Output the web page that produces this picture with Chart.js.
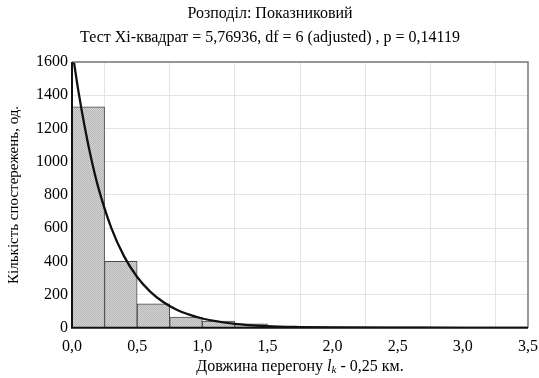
<!DOCTYPE html>
<html>
<head>
<meta charset="utf-8">
<script src="https://cdn.jsdelivr.net/npm/chart.js@4"></script>
<style>
  html, body { margin: 0; background: #fff; }
  #wrap { width: 539px; height: 378px; }
</style>
</head>
<body>
<div id="wrap"><canvas id="c"></canvas></div>
<script>
// ── data ──────────────────────────────────────────────────────
const binWidth  = 0.25;
const binStart  = [0, 0.25, 0.5, 0.75, 1.0, 1.25, 1.5, 1.75, 2.0, 2.25, 2.5, 2.75, 3.0, 3.25];
const binCounts = [1330, 400, 145, 65, 40, 24, 6, 5, 1, 0, 0, 1, 0, 0];

// fitted exponential curve
const curveX = [0, 0.05, 0.1, 0.15, 0.2, 0.3, 0.4, 0.5, 0.6, 0.7, 0.8, 0.9, 1.0, 1.25, 1.5, 1.75, 2.0, 2.5, 3.0, 3.5];
const curveY = [1680, 1420, 1200, 1010, 850, 605, 430, 306, 218, 155, 110, 79, 56, 24, 10, 4.5, 2, 0.4, 0.1, 0];

const xTickVals = [0, 0.5, 1.0, 1.5, 2.0, 2.5, 3.0, 3.5];
const yTickVals = [0, 200, 400, 600, 800, 1000, 1200, 1400, 1600];

const titleLines = ['Розподіл: Показниковий', 'Тест Хі-квадрат = 5,76936, df = 6 (adjusted) , p = 0,14119'];
const yTitle = 'Кількість спостережень, од.';

// ── bar texture (dotted gray) ─────────────────────────────────
function dotPattern() {
  const pc = document.createElement('canvas');
  pc.width = 2; pc.height = 2;
  const g = pc.getContext('2d');
  g.fillStyle = '#d4d4d4'; g.fillRect(0, 0, 2, 2);
  g.fillStyle = '#b6b6b6'; g.fillRect(0, 0, 1, 1); g.fillRect(1, 1, 1, 1);
  return g.createPattern(pc, 'repeat');
}

const SERIF = "'Liberation Serif', 'Times New Roman', serif";

// x axis title with italic l and subscript k
const xTitlePlugin = {
  id: 'xTitle',
  afterDraw(chart) {
    const { ctx, chartArea } = chart;
    const parts = [
      { t: 'Довжина перегону ', f: '16px ' + SERIF, dy: 0 },
      { t: 'l', f: 'italic 16px ' + SERIF, dy: 0 },
      { t: 'k', f: 'italic 11px ' + SERIF, dy: 3 },
      { t: ' - 0,25 км.', f: '16px ' + SERIF, dy: 0 },
    ];
    ctx.save();
    let total = 0;
    parts.forEach(p => { ctx.font = p.f; p.w = ctx.measureText(p.t).width; total += p.w; });
    let x = (chartArea.left + chartArea.right) / 2 - total / 2;
    const y = 367;
    ctx.fillStyle = '#000';
    ctx.textBaseline = 'middle';
    parts.forEach(p => { ctx.font = p.f; ctx.fillText(p.t, x, y + p.dy); x += p.w; });
    ctx.restore();
  }
};

// plot frame: black left/bottom, gray top/right
const framePlugin = {
  id: 'frame',
  afterDatasetsDraw(chart) {
    const { ctx, chartArea: a } = chart;
    ctx.save();
    ctx.lineWidth = 1.5;
    ctx.strokeStyle = '#777';
    ctx.beginPath();
    ctx.moveTo(a.left, a.top); ctx.lineTo(a.right, a.top); ctx.lineTo(a.right, a.bottom);
    ctx.stroke();
    ctx.strokeStyle = '#111';
    ctx.lineWidth = 2;
    ctx.beginPath();
    ctx.moveTo(a.left, a.top); ctx.lineTo(a.left, a.bottom); ctx.lineTo(a.right, a.bottom);
    ctx.stroke();
    ctx.restore();
  }
};

const fmt = v => v.toFixed(1).replace('.', ',');

new Chart(document.getElementById('c'), {
  data: {
    datasets: [
      {
        type: 'line',
        data: curveX.map((x, i) => ({ x, y: curveY[i] })),
        borderColor: '#111',
        borderWidth: 2.3,
        pointRadius: 0,
        cubicInterpolationMode: 'monotone',
        order: 0,
      },
      {
        type: 'bar',
        data: binStart.map((s, i) => ({ x: s + binWidth / 2, y: binCounts[i] })),
        backgroundColor: dotPattern(),
        borderColor: '#4a4a4a',
        borderWidth: 1,
        barPercentage: 1,
        categoryPercentage: 1,
        order: 1,
      },
    ]
  },
  options: {
    responsive: true, maintainAspectRatio: false, animation: false,
    layout: { padding: { left: 1, right: 0, top: 0, bottom: 13 } },
    plugins: {
      legend: { display: false },
      tooltip: { enabled: false },
      title: {
        display: true, text: titleLines, color: '#000',
        font: { family: SERIF, size: 16, weight: 'normal', lineHeight: 1.5 },
        padding: { top: 2, bottom: 12 },
      },
    },
    scales: {
      x: {
        type: 'linear', min: 0, max: 3.5, offset: false,
        afterBuildTicks: s => { s.ticks = xTickVals.map(v => ({ value: v })); },
        afterFit: s => { s.paddingRight = 11; },
        grid: { color: '#e4e4e4', drawTicks: false },
        border: { display: false },
        ticks: { color: '#000', padding: 9, font: { family: SERIF, size: 16 }, callback: v => fmt(v), maxRotation: 0 },
      },
      y: {
        min: 0, max: 1600,
        afterBuildTicks: s => { s.ticks = yTickVals.map(v => ({ value: v })); },
        grid: { color: '#e4e4e4', drawTicks: false },
        border: { display: false },
        ticks: { color: '#000', padding: 4, font: { family: SERIF, size: 16 }, callback: v => String(v) },
        title: { display: true, text: yTitle, color: '#000', padding: { top: 4, bottom: 9 }, font: { family: SERIF, size: 15 } },
      },
    },
  },
  plugins: [xTitlePlugin, framePlugin],
});
</script>
</body>
</html>
